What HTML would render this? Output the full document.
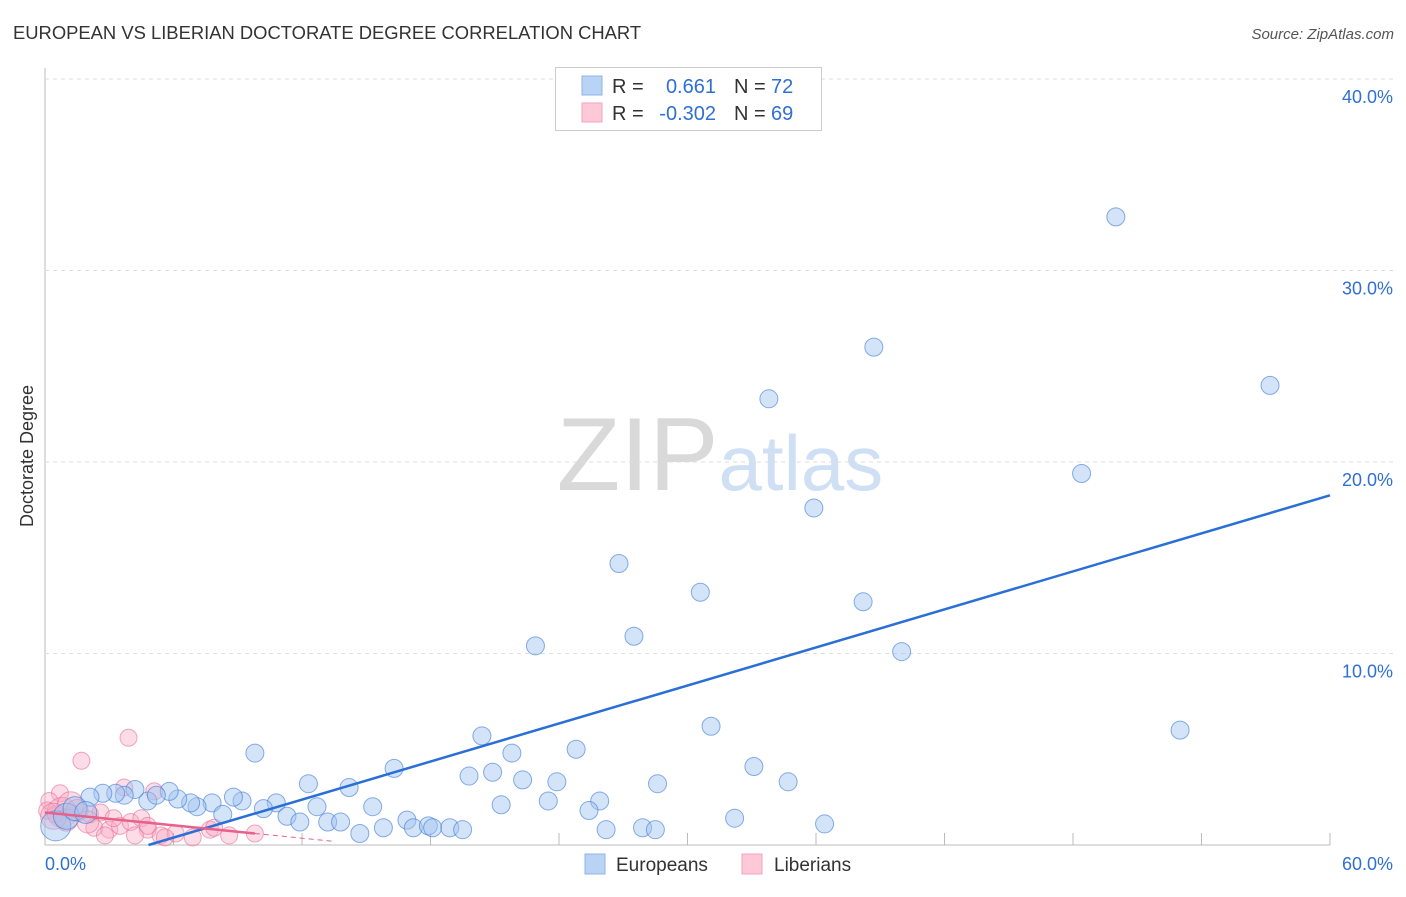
<!DOCTYPE html>
<html><head><meta charset="utf-8"><style>
body{margin:0;background:#fff;font-family:"Liberation Sans",sans-serif;}
svg text{font-family:"Liberation Sans",sans-serif;}
</style></head><body>
<svg id="chart" width="1406" height="892" xmlns="http://www.w3.org/2000/svg">
<text x="13" y="39" font-size="18.4" fill="#333">EUROPEAN VS LIBERIAN DOCTORATE DEGREE CORRELATION CHART</text>
<text x="1394" y="39" font-size="15" fill="#555" font-style="italic" text-anchor="end">Source: ZipAtlas.com</text>
<text x="720" y="490" font-size="104" text-anchor="middle" fill="#ddd" font-family="Liberation Serif"><tspan fill="#d9d9d9">ZIP</tspan><tspan fill="#cfe0f5" font-family="Liberation Sans" font-size="78">atlas</tspan></text>
<text transform="translate(33,456) rotate(-90)" font-size="18" fill="#333" text-anchor="middle">Doctorate Degree</text>
<g id="grid"></g><g id="pts"></g><g id="lines"></g>
<g>
<rect x="555.5" y="67.5" width="266" height="63" fill="#fff" stroke="#ccc"/>
<rect x="582" y="76" width="20" height="19" fill="#b9d3f5" stroke="#8fb5e8"/>
<rect x="582" y="103" width="20" height="19" fill="#fcc9d8" stroke="#f3a3bb"/>
<text x="612" y="93" font-size="20" fill="#333">R =</text><text x="716" y="93" font-size="20" fill="#2f6fd6" text-anchor="end">0.661</text>
<text x="734" y="93" font-size="20" fill="#333">N =</text><text x="771" y="93" font-size="20" fill="#2f6fd6">72</text>
<text x="612" y="120" font-size="20" fill="#333">R =</text><text x="716" y="120" font-size="20" fill="#2f6fd6" text-anchor="end">-0.302</text>
<text x="734" y="120" font-size="20" fill="#333">N =</text><text x="771" y="120" font-size="20" fill="#2f6fd6">69</text>
</g>
<g>
<rect x="585" y="854" width="20" height="20" fill="#b9d3f5" stroke="#8fb5e8"/>
<text x="616" y="871" font-size="19" fill="#333">Europeans</text>
<rect x="742" y="854" width="20" height="20" fill="#fcc9d8" stroke="#f3a3bb"/>
<text x="774" y="871" font-size="19" fill="#333">Liberians</text>
</g>
</svg>
<script>
const yTicks=[10,20,30,40];
const xTickLabels=["0.0%","60.0%"];
const blueX=[50.0,38.7,33.8,57.2,48.4,35.9,26.8,30.6,38.2,27.5,22.9,40.0,53.0,31.1,20.4,24.8,21.8,9.8,16.3,33.1,19.8,20.9,22.3,23.9,28.6,34.7,12.3,14.2,23.5,25.9,21.3,25.4,15.3,12.7,10.8,10.2,9.2,8.8,7.8,7.1,6.8,6.2,5.8,4.8,5.2,4.2,3.7,3.3,2.7,2.1,8.3,11.3,11.9,13.2,13.8,15.8,16.9,17.2,17.9,18.1,18.9,19.5,14.7,26.2,27.9,28.5,32.2,36.4,0.5,1.0,1.4,1.9];
const blueY=[32.8,26.0,23.3,24.0,19.4,17.6,14.7,13.2,12.7,10.9,10.4,10.1,6.0,6.2,5.7,5.0,4.8,4.8,4.0,4.1,3.6,3.8,3.4,3.3,3.2,3.3,3.2,3.0,2.3,2.3,2.1,1.8,2.0,2.0,2.2,1.9,2.3,2.5,2.2,2.0,2.2,2.4,2.8,2.3,2.6,2.9,2.6,2.7,2.7,2.5,1.6,1.5,1.2,1.2,1.2,0.9,1.3,0.9,1.0,0.9,0.9,0.8,0.6,0.8,0.9,0.8,1.4,1.1,1.0,1.5,1.9,1.7];
const blueR=[9,9,9,9,9,9,9,9,9,9,9,9,9,9,9,9,9,9,9,9,9,9,9,9,9,9,9,9,9,9,9,9,9,9,9,9,9,9,9,9,9,9,9,9,9,9,9,9,9,9,9,9,9,9,9,9,9,9,9,9,9,9,9,9,9,9,9,9,15,13,12,11];
const pinkX=[3.9,1.7,3.7,5.1,0.7,0.2,0.1,0.5,0.8,1.2,1.5,2.1,2.6,2.3,3.0,3.5,4.0,4.5,4.8,5.4,6.1,7.7,7.9,8.6,9.8,5.6,2.8,4.2,4.8,1.0,0.4,2.0,3.2,6.9];
const pinkY=[5.6,4.4,3.0,2.8,2.7,2.3,1.8,1.6,1.7,2.1,1.8,1.6,1.7,0.9,0.8,1.0,1.2,1.4,0.8,0.5,0.6,0.8,0.9,0.5,0.6,0.4,0.5,0.5,1.0,1.3,1.5,1.2,1.4,0.4];
const pinkR=[8.5,8.5,8.5,8.5,8.5,8.5,8.5,8.5,15,13,11,8.5,8.5,8.5,8.5,8.5,8.5,8.5,8.5,8.5,8.5,8.5,8.5,8.5,8.5,8.5,8.5,8.5,8.5,11,13,11,8.5,8.5];
const blueTrend=[-1.6,0.331];
const pinkTrend=[1.7,-0.112];
const X0=45,X1=1330,Y0=845,PXY=19.15;
const sx=v=>X0+v*(X1-X0)/60, sy=v=>Y0-v*PXY;
const NS="http://www.w3.org/2000/svg";
function mk(tag,a,parent){const e=document.createElementNS(NS,tag);for(const k in a)e.setAttribute(k,a[k]);document.getElementById(parent).appendChild(e);return e;}
const ax=mk('line',{x1:X0,y1:68,x2:X0,y2:Y0,stroke:'#bbb'},'grid');

const bx=mk('line',{x1:X0,y1:Y0,x2:X1,y2:Y0,stroke:'#bbb'},'grid');

yTicks.forEach(t=>{
 const g=mk('line',{x1:X0,y1:sy(t),x2:1394,y2:sy(t),stroke:'#ddd','stroke-dasharray':'4,4'},'grid');
 
 const l=mk('text',{x:1393,y:sy(t)+24,'font-size':18,fill:'#2f6fd6','text-anchor':'end'},'grid');l.textContent=t.toFixed(1)+'%';
 
});
for(let i=1;i<=10;i++){const t=mk('line',{x1:sx(i*6),y1:Y0,x2:sx(i*6),y2:Y0-12,stroke:'#bbb'},'grid');
 }
const xl0=mk('text',{x:45,y:870,'font-size':18,fill:'#2f6fd6'},'grid');xl0.textContent=xTickLabels[0];

const xl1=mk('text',{x:1393,y:870,'font-size':18,fill:'#2f6fd6','text-anchor':'end'},'grid');xl1.textContent=xTickLabels[1];

pinkX.forEach((v,i)=>{const c=mk('circle',{cx:sx(v),cy:sy(pinkY[i]),r:pinkR[i],fill:'rgba(248,170,195,0.4)',stroke:'rgba(232,110,150,0.6)','stroke-width':1},'pts');
 });
blueX.forEach((v,i)=>{const c=mk('circle',{cx:sx(v),cy:sy(blueY[i]),r:blueR[i],fill:'rgba(160,195,240,0.45)',stroke:'rgba(60,120,215,0.6)','stroke-width':1},'pts');
 });
const bStart=-blueTrend[0]/blueTrend[1];
const bl=mk('line',{x1:sx(bStart),y1:sy(0),x2:sx(60),y2:sy(blueTrend[0]+blueTrend[1]*60),stroke:'#2a6fd6','stroke-width':2.5},'lines');

const pl=mk('line',{x1:sx(0),y1:sy(pinkTrend[0]),x2:sx(9.8),y2:sy(pinkTrend[0]+pinkTrend[1]*9.8),stroke:'#e8608c','stroke-width':2.5},'lines');

const pd=mk('line',{x1:sx(9.8),y1:sy(pinkTrend[0]+pinkTrend[1]*9.8),x2:sx(13.5),y2:sy(pinkTrend[0]+pinkTrend[1]*13.5),stroke:'#e8608c','stroke-width':1,'stroke-dasharray':'5,4'},'lines');

</script>
</body></html>
